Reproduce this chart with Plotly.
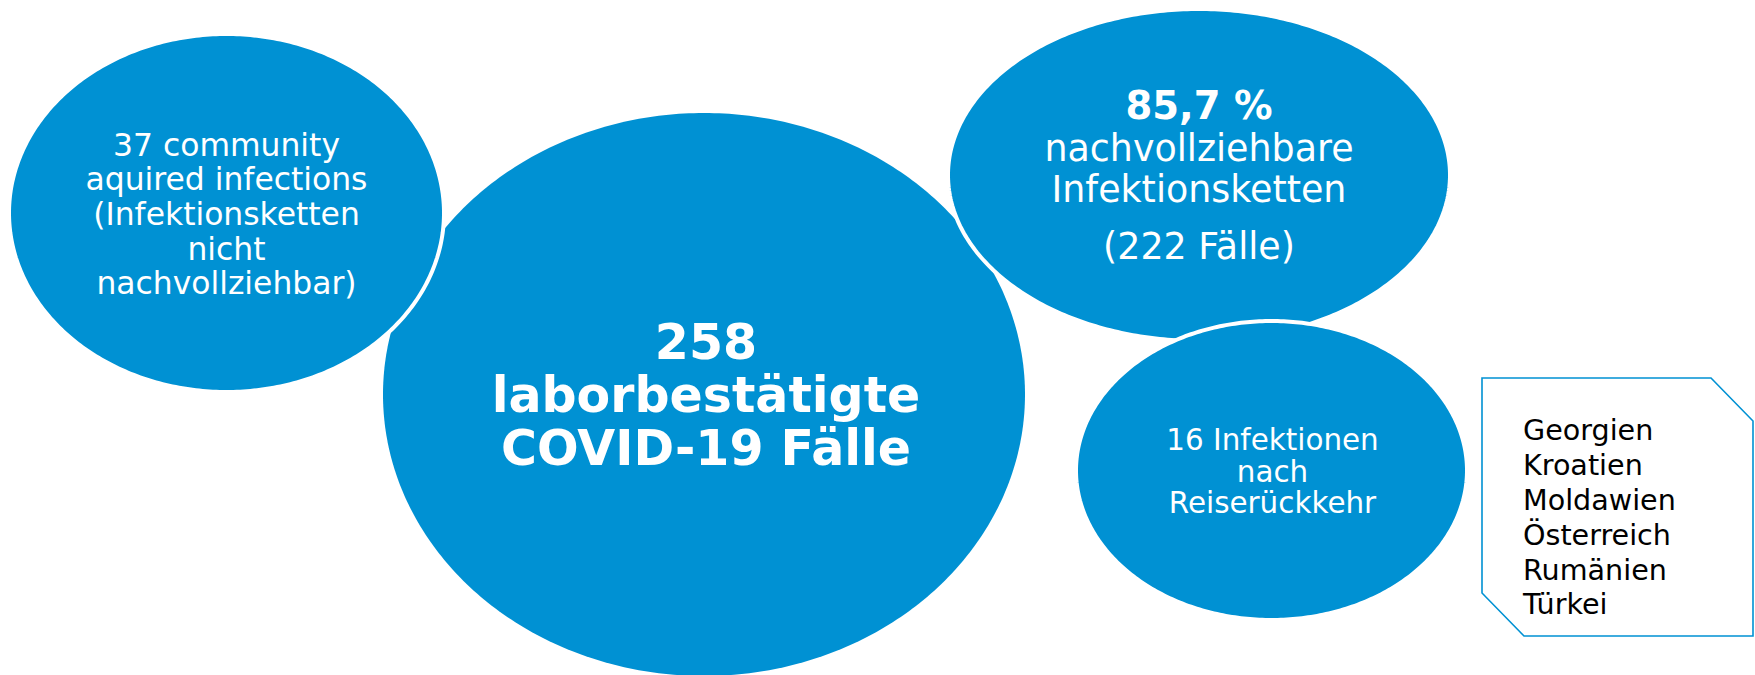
import numpy as np
import plotly.graph_objects as go

W, H = 1755, 675
BLUE = "#0091D3"
FONT = "DejaVu Sans"

# ---- content ----
left_lines = ["37 community", "aquired infections", "(Infektionsketten", "nicht", "nachvollziehbar)"]
big_lines = ["258", "laborbestätigte", "COVID-19 Fälle"]
top_lines = ["85,7 %", "nachvollziehbare", "Infektionsketten", "(222 Fälle)"]
top_bold = [True, False, False, False]
low_lines = ["16 Infektionen", "nach", "Reiserückkehr"]
countries = ["Georgien", "Kroatien", "Moldawien", "Österreich", "Rumänien", "Türkei"]

# ---- layout geometry (pixels) ----
ellipses = [  # (x0, y0, x1, y1, white border)
    (383, 113, 1025, 676, False),   # big
    (9, 34, 444, 392, True),        # left
    (948, 9, 1450, 341, True),      # top right
    (1076, 321, 1467, 620, True),   # lower right
]


def ellipse_path(x0, y0, x1, y1, n=400):
    cx, cy = (x0 + x1) / 2, (y0 + y1) / 2
    rx, ry = (x1 - x0) / 2, (y1 - y0) / 2
    t = np.linspace(0, 2 * np.pi, n, endpoint=False)
    pts = [f"{cx + rx * np.cos(a):.2f},{cy + ry * np.sin(a):.2f}" for a in t]
    return "M " + " L ".join(pts) + " Z"


fig = go.Figure()

shapes = []
for x0, y0, x1, y1, border in ellipses:
    shapes.append(dict(type="path", xref="x", yref="y", layer="below",
                       path=ellipse_path(x0, y0, x1, y1),
                       fillcolor=BLUE,
                       line=dict(color="white", width=4 if border else 0)))

# snipped-corner text box
shapes.append(dict(type="path", xref="x", yref="y", layer="below",
                   path="M 1482 378 L 1711 378 L 1753 421 L 1753 636 L 1524 636 L 1482 593 Z",
                   fillcolor="white", line=dict(color=BLUE, width=1.6)))


def add_lines(lines, cx, base0, step, size, color, bold=None, pos="middle center"):
    for i, t in enumerate(lines):
        b = bold[i] if isinstance(bold, list) else bool(bold)
        fs = size[i] if isinstance(size, list) else size
        base = base0[i] if isinstance(base0, list) else base0 + i * step
        fig.add_trace(go.Scatter(
            x=[cx], y=[base - 0.2 * fs], mode="text",
            text=[f"<b>{t}</b>" if b else t],
            textposition=pos, cliponaxis=False,
            textfont=dict(family=FONT, size=fs, color=color),
            hoverinfo="skip", showlegend=False))


add_lines(left_lines, 226.5, 154, 34.7, 31.4, "white")
add_lines(big_lines, 706, 357, 53, 49, "white", bold=True)
add_lines(top_lines, 1199, [117, 159, 200, 257], 0, [38.5, 36.4, 36.4, 36.4], "white", bold=top_bold)
add_lines(low_lines, 1272.5, 449, 31.5, 29.4, "white")
add_lines(countries, 1523, 439, 34.8, 28.6, "black", pos="middle right")

fig.update_layout(
    width=W, height=H,
    margin=dict(l=0, r=0, t=0, b=0),
    paper_bgcolor="white", plot_bgcolor="rgba(0,0,0,0)",
    xaxis=dict(range=[0, W], visible=False, fixedrange=True),
    yaxis=dict(range=[H, 0], visible=False, fixedrange=True),
    shapes=shapes,
    showlegend=False,
)

fig.write_html("out.html", config={"displayModeBar": False},
               post_script="document.body.style.margin='0';document.body.style.overflow='hidden';")
